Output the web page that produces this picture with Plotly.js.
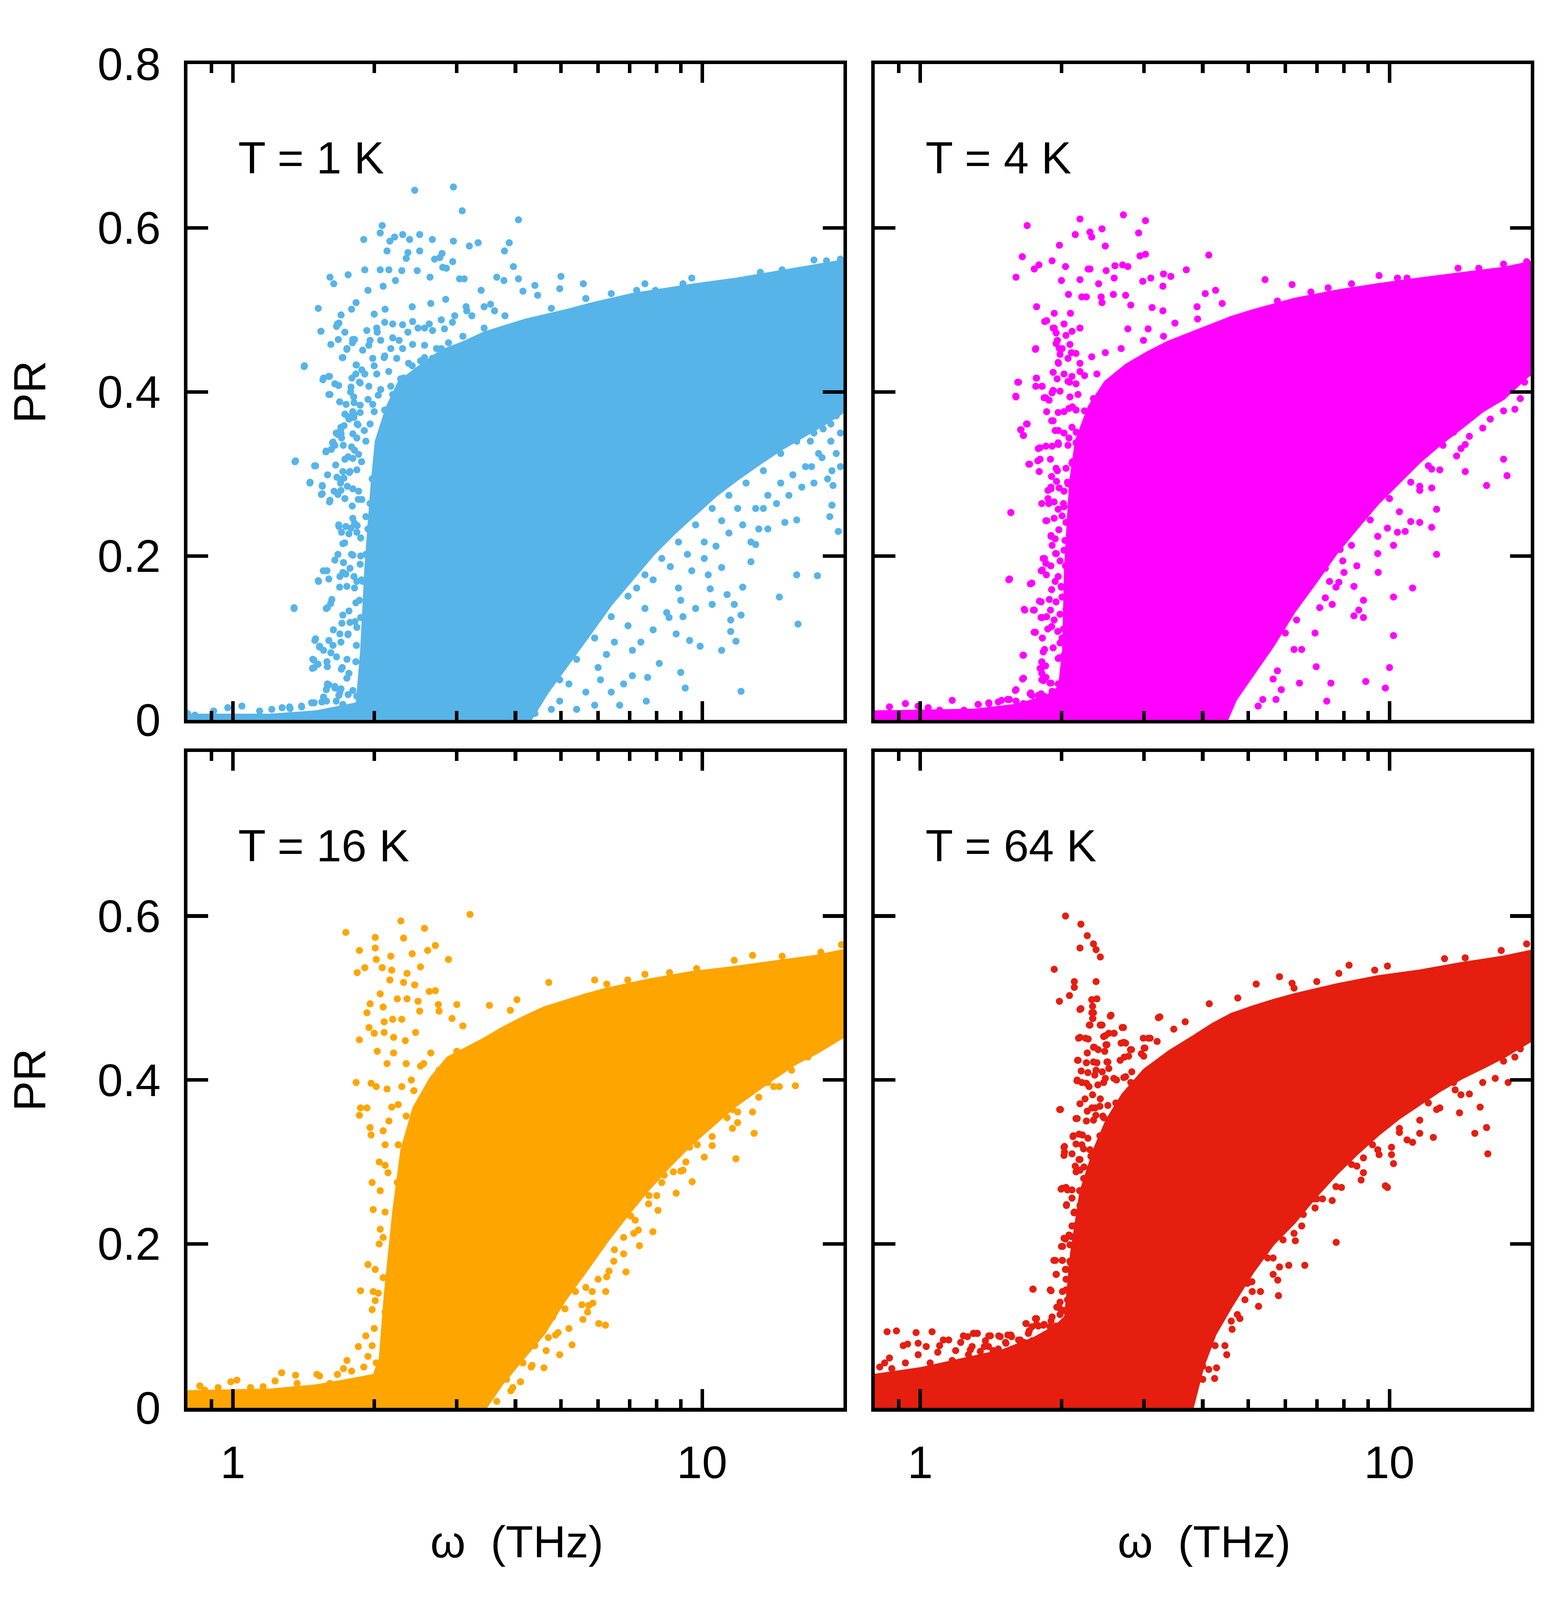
<!DOCTYPE html>
<html>
<head>
<meta charset="utf-8">
<script src="https://cdn.plot.ly/plotly-3.0.1.min.js"></script>
<style>html,body{margin:0;padding:0;background:#fff;overflow:hidden}</style>
</head>
<body>
<div id="chart"></div>
<script>
// ---------- axis ticks ----------
const xMajorTicks = [1, 10];
const xMajorText = ["1", "10"];
const xMinorTicks = [0.8, 0.9, 2, 3, 4, 5, 6, 7, 8, 9, 20];
const yTicksTop = [0, 0.2, 0.4, 0.6, 0.8];
const yTextTop = ["0", "0.2", "0.4", "0.6", "0.8"];
const yTicksBottom = [0, 0.2, 0.4, 0.6];
const yTextBottom = ["0", "0.2", "0.4", "0.6"];

const panelLabels = ["T = 1 K", "T = 4 K", "T = 16 K", "T = 64 K"];
const panelColors = ["#56b4e9", "#ff00ff", "#ffa500", "#e51e10"];
const xTitle = "ω\u00a0 (THz)";
const yTitle = "PR";

// ---------- T = 1 K : outline of the densely covered region [omega, PR] ----------
const t1Core = [[0.8,0],[0.8,0.006],[1.2,0.006],[1.5,0.01],[1.7,0.016],[1.84,0.02],[1.88,0.085],[1.92,0.187],[1.98,0.289],[2.02,0.34],[2.13,0.381],[2.26,0.412],[2.51,0.432],[2.78,0.45],[3.09,0.46],[3.43,0.472],[3.8,0.48],[4.22,0.488],[4.68,0.494],[5.19,0.5],[5.76,0.507],[6.39,0.513],[7.09,0.519],[7.86,0.523],[9.68,0.531],[11.9,0.538],[14.7,0.547],[18.1,0.555],[20,0.56],[20,0.376],[18.1,0.36],[16.3,0.345],[14.7,0.33],[13.2,0.312],[11.9,0.294],[10.7,0.274],[9.68,0.251],[8.72,0.228],[7.86,0.202],[7.09,0.171],[6.39,0.141],[5.76,0.105],[5.19,0.069],[4.68,0.034],[4.3,0]];
// T = 1 K : scattered points [omega, PR]
const t1Points = [[2.44,0.646],[2.95,0.65],[3.08,0.621],[4.06,0.61],[2.08,0.603],[1.9,0.586],[2.06,0.594],[2.16,0.584],[2.21,0.589],[2.3,0.592],[2.5,0.592],[2.38,0.586],[2.66,0.586],[2.95,0.584],[3.19,0.578],[3.33,0.582],[3.88,0.582],[3.79,0.572],[2.13,0.572],[2.5,0.572],[2.36,0.57],[2.34,0.563],[2.79,0.569],[2.76,0.564],[2.69,0.562],[2.94,0.559],[3.96,0.553],[3.65,0.54],[3.78,0.536],[4.06,0.538],[1.61,0.54],[1.76,0.543],[1.64,0.532],[1.91,0.549],[2.06,0.549],[2.15,0.549],[2.29,0.548],[2.47,0.548],[2.63,0.54],[2.8,0.552],[2.85,0.551],[3.04,0.538],[3.11,0.538],[4.4,0.53],[5.0,0.541],[5.58,0.532],[4.97,0.526],[4.46,0.518],[4.15,0.523],[1.52,0.502],[1.54,0.474],[1.67,0.483],[1.7,0.494],[1.79,0.501],[1.83,0.509],[2.0,0.495],[1.94,0.524],[2.09,0.529],[2.22,0.536],[2.11,0.501],[2.41,0.504],[2.64,0.508],[2.84,0.513],[3.38,0.524],[3.54,0.507],[3.14,0.504],[3.23,0.493],[3.61,0.499],[1.42,0.432],[1.56,0.417],[1.6,0.419],[1.61,0.397],[1.65,0.41],[1.68,0.408],[1.71,0.442],[1.75,0.453],[1.8,0.464],[1.89,0.451],[1.83,0.433],[1.96,0.463],[2.03,0.473],[1.36,0.316],[1.5,0.31],[1.46,0.29],[1.55,0.286],[1.55,0.276],[1.61,0.268],[1.58,0.328],[1.63,0.338],[1.66,0.35],[1.7,0.349],[1.35,0.137],[1.52,0.17],[1.59,0.137],[1.5,0.099],[1.48,0.074],[1.49,0.064],[1.53,0.09],[1.56,0.085],[1.71,0.294],[1.77,0.302],[1.76,0.321],[1.79,0.333],[1.68,0.238],[1.73,0.216],[1.74,0.178],[1.79,0.202],[1.84,0.237],[1.85,0.269],[1.59,0.042],[1.65,0.039],[1.69,0.034],[1.71,0.064],[1.75,0.074],[1.76,0.105],[1.82,0.12],[1.86,0.146],[1.88,0.171],[1.92,0.202],[1.94,0.233],[1.96,0.264],[1.98,0.294],[1.88,0.315],[1.92,0.34],[1.96,0.361],[2.0,0.376],[1.94,0.391],[2.04,0.396],[1.84,0.361],[1.8,0.376],[1.86,0.412],[1.91,0.422],[2.0,0.432],[2.1,0.442],[2.17,0.453],[2.26,0.463],[2.36,0.473],[2.48,0.478],[2.62,0.483],[2.78,0.488],[2.97,0.493],[3.15,0.499],[3.43,0.504],[3.8,0.493],[3.43,0.478],[3.09,0.468],[2.78,0.453],[2.56,0.442],[2.41,0.432],[2.31,0.417],[2.17,0.407],
[1.54,0.474],[1.682,0.484],[1.663,0.48],[1.732,0.473],[1.677,0.464],[1.617,0.458],[1.798,0.46],[1.816,0.464],[1.749,0.452],[1.715,0.442],[1.418,0.431],[1.555,0.415],[1.606,0.419],[1.649,0.41],[1.679,0.408],[1.601,0.397],[1.833,0.433],[1.882,0.427],[1.828,0.422],[1.793,0.417],[1.867,0.411],[1.785,0.406],[1.781,0.4],[1.809,0.394],[1.688,0.388],[1.742,0.385],[1.812,0.387],[1.867,0.384],[1.732,0.373],[1.76,0.37],[1.767,0.367],[1.811,0.373],[1.811,0.369],[1.867,0.375],[1.847,0.36],[1.905,0.353],[1.699,0.357],[1.725,0.359],[1.696,0.353],[1.674,0.348],[1.704,0.344],[1.801,0.349],[1.837,0.344],[1.634,0.339],[1.649,0.335],[1.718,0.335],[1.62,0.33],[1.578,0.327],[1.816,0.329],[1.853,0.324],[1.801,0.319],[1.732,0.318],[1.356,0.315],[1.493,0.31],[1.656,0.311],[1.591,0.299],[1.715,0.303],[1.776,0.303],[1.837,0.305],[1.666,0.296],[1.724,0.295],[1.696,0.289],[1.459,0.289],[1.551,0.285],[1.753,0.285],[1.543,0.275],[1.643,0.279],[1.674,0.275],[1.699,0.28],[1.801,0.282],[1.853,0.279],[1.732,0.27],[1.606,0.266],[1.796,0.261],[1.882,0.269],[1.92,0.248],[1.801,0.246],[1.816,0.24],[1.682,0.236],[1.74,0.236],[1.785,0.234],[1.704,0.229],[1.767,0.227],[1.837,0.229],[1.872,0.222],[1.715,0.215],[1.674,0.202],[1.649,0.195],[1.801,0.201],[1.872,0.2],[1.867,0.19],[1.72,0.192],[1.586,0.182],[1.558,0.182],[1.776,0.185],[1.715,0.18],[1.522,0.169],[1.601,0.172],[1.69,0.175],[1.811,0.175],[1.837,0.169],[1.891,0.169],[1.688,0.162],[1.749,0.163],[1.816,0.161],[1.35,0.136],[1.581,0.136],[1.625,0.147],[1.615,0.142],[1.828,0.143],[1.767,0.133],[1.715,0.128],[1.707,0.118],[1.776,0.119],[1.872,0.125],[1.637,0.11],[1.69,0.105],[1.758,0.104],[1.837,0.113],[1.495,0.097],[1.601,0.097],[1.529,0.089],[1.634,0.091],[1.699,0.095],[1.833,0.091],[1.488,0.073],[1.477,0.063],[1.518,0.068],[1.586,0.071],[1.589,0.065],[1.663,0.077],[1.702,0.062],[1.617,0.082],[1.828,0.071],[1.767,0.057],[1.749,0.051],[1.601,0.043],[1.581,0.037],[1.649,0.041],[1.699,0.038],[1.682,0.03],[1.801,0.036],[1.547,0.022],[1.583,0.023],[1.471,0.021],[1.273,0.015],[1.324,0.014],[1.401,0.016],[1.715,0.019],[1.837,0.029],
[1.929,0.475],[2.025,0.478],[2.106,0.485],[2.19,0.483],[2.299,0.482],[2.415,0.486],[2.561,0.478],[2.663,0.475],[2.824,0.477],[2.936,0.485],[1.948,0.457],[2.065,0.463],[2.19,0.466],[2.299,0.453],[2.415,0.458],[2.561,0.457],[2.716,0.453],[2.88,0.46],[1.986,0.441],[2.106,0.444],[2.234,0.441],[2.368,0.435],[2.511,0.438],[2.663,0.441],[2.025,0.422],[2.148,0.425],[2.277,0.416],[2.415,0.413],[2.561,0.416],[1.948,0.407],[2.065,0.403],[2.19,0.397],[2.322,0.394],[1.986,0.385],[2.106,0.378],
[12.1,0.035],[16.0,0.117],[14.6,0.15],[15.9,0.177],[17.6,0.176],[18.9,0.262],[19.5,0.23],[18.7,0.248],[19.0,0.286],[18.0,0.32],[18.9,0.304],[17.1,0.309],[15.9,0.244],[15.0,0.241],[13.2,0.233],[13.8,0.233],[13.0,0.214],[12.7,0.193],[12.2,0.162],[11.5,0.122],[11.5,0.108],[11.8,0.096],[12.1,0.128],[11.0,0.085],[11.7,0.141],[10.5,0.141],[11.3,0.153],[11.0,0.186],[10.4,0.16],[9.9,0.09],[9.4,0.097],[9.2,0.039],[9.0,0.058],[8.5,0.125],[8.8,0.105],[9.0,0.146],[8.1,0.069],[7.65,0.052],[7.6,0.023],[7.1,0.054],[6.67,0.018],[6.8,0.044],[6.4,0.034],[6.07,0.049],[5.9,0.018],[5.65,0.034],[5.4,0.013],[5.2,0.044],[4.97,0.023],[4.77,0.013],[4.58,0.044],[4.4,0.008],[7.4,0.095],[7.86,0.11],[8.4,0.131],[8.9,0.161],[9.5,0.182],[10.1,0.197],[10.7,0.212],[11.4,0.228],[12.2,0.238],[13.0,0.258],[13.8,0.274],[14.7,0.289],[15.6,0.299],[16.6,0.309],[17.7,0.325],[18.8,0.34],[19.7,0.35],[18.8,0.361],[17.3,0.35],[15.9,0.34],[14.7,0.325],[13.5,0.304],[12.4,0.289],[11.4,0.274],[10.5,0.258],[9.68,0.238],[8.9,0.217],[8.2,0.197],[7.55,0.177],[6.95,0.151],[6.4,0.126],[5.9,0.1],[5.4,0.074],[4.97,0.049],[7.25,0.161],[7.86,0.171],[8.55,0.187],[9.3,0.202],[10.1,0.217],[11.0,0.243],[11.9,0.258],[6.5,0.095],[6.95,0.115],[6.0,0.064],[6.25,0.08],[7.1,0.085],[7.55,0.136],[9.68,0.136],[10.3,0.177],[9.1,0.126],[12.7,0.217],[13.5,0.258],[14.4,0.264],[15.3,0.274],[16.3,0.284],[17.3,0.289],[18.5,0.294],[19.7,0.309],[19.9,0.381],[19.3,0.371],[18.1,0.355],[17.0,0.34],[19.3,0.325],
[0.8,0.008],[0.83,0.006],[0.91,0.011],[0.975,0.015],[1.045,0.017],[1.14,0.011],[1.21,0.013],[1.32,0.016],[1.4,0.017],[1.49,0.021],[1.56,0.028],[1.59,0.044],[1.66,0.023],[1.76,0.031],[1.84,0.018],
[7.55,0.532],[9.5,0.539],[13.3,0.546],[14.8,0.549],[18.4,0.56],[17.3,0.561],[19.7,0.562],[7.25,0.524],[7.95,0.524],[9.1,0.532],[6.4,0.52],[5.65,0.514],[4.77,0.502]];

// ---------- T = 4 K ----------
const t2Core = [[0.8,0],[0.8,0.01],[1.3,0.012],[1.6,0.018],[1.85,0.028],[1.98,0.04],[2.02,0.085],[2.04,0.187],[2.09,0.289],[2.15,0.34],[2.29,0.382],[2.48,0.412],[2.75,0.433],[3.05,0.448],[3.38,0.461],[3.75,0.471],[4.15,0.481],[4.6,0.491],[5.1,0.499],[5.65,0.506],[6.26,0.513],[7.69,0.523],[9.44,0.531],[11.6,0.538],[14.2,0.544],[17.5,0.551],[20,0.558],[20,0.423],[17.5,0.392],[15.8,0.377],[14.2,0.356],[12.8,0.336],[11.6,0.315],[10.5,0.29],[9.44,0.264],[8.52,0.234],[7.69,0.203],[6.94,0.167],[6.26,0.132],[5.65,0.091],[5.1,0.055],[4.7,0.025],[4.5,0]];
const t2Points = [[2.71,0.616],[3.02,0.609],[2.19,0.611],[1.69,0.603],[2.14,0.592],[2.3,0.595],[2.44,0.599],[2.48,0.578],[2.32,0.589],[2.92,0.594],[1.98,0.579],[1.65,0.565],[3.02,0.568],[2.94,0.566],[4.12,0.567],[3.69,0.549],[3.42,0.541],[3.3,0.544],[3.1,0.539],[2.7,0.555],[2.77,0.553],[2.6,0.554],[2.49,0.548],[2.3,0.55],[2.28,0.55],[2.04,0.553],[1.91,0.56],[1.75,0.55],[1.79,0.555],[1.6,0.54],[2.0,0.536],[2.19,0.537],[2.4,0.532],[2.59,0.539],[2.98,0.535],[3.29,0.529],[5.43,0.537],[4.26,0.524],[4.05,0.52],[2.07,0.519],[2.21,0.516],[2.26,0.516],[2.43,0.516],[2.58,0.519],[2.74,0.518],[1.77,0.504],[1.86,0.487],[1.93,0.496],[2.09,0.496],[2.44,0.509],[2.81,0.506],[3.12,0.503],[3.29,0.499],[3.89,0.504],[4.4,0.508],[3.9,0.489],[3.49,0.484],[3.06,0.477],[2.77,0.477],[1.93,0.478],[1.96,0.463],[1.76,0.452],[1.98,0.453],[2.1,0.448],[2.32,0.443],[2.48,0.448],[2.68,0.453],[2.99,0.463],[3.3,0.468],[1.97,0.435],[1.77,0.417],[1.62,0.412],[1.82,0.407],[1.6,0.394],[2.08,0.412],[2.24,0.42],[2.38,0.422],[1.92,0.402],[1.85,0.393],[1.64,0.354],[1.66,0.347],[1.69,0.361],[1.86,0.376],[1.92,0.365],[1.97,0.353],[1.97,0.336],[1.8,0.332],[1.71,0.312],[1.8,0.318],[1.96,0.304],[1.9,0.282],[1.88,0.264],[1.86,0.243],[1.56,0.253],[1.9,0.224],[1.95,0.203],[1.84,0.197],[1.82,0.183],[1.55,0.172],[1.73,0.167],[1.81,0.144],[1.75,0.134],[1.67,0.134],[1.82,0.125],[1.76,0.107],[1.66,0.079],[1.87,0.111],[1.84,0.086],[1.81,0.063],[1.83,0.048],[1.66,0.051],[1.6,0.037],[1.72,0.033],[1.9,0.045],[1.98,0.076],[2.02,0.111],[2.0,0.162],[2.04,0.188],[2.02,0.264],[2.06,0.29],[2.11,0.315],[2.15,0.351],[2.24,0.377],[2.34,0.392],[2.54,0.407],[2.11,0.382],[2.38,0.361],
[1.842,0.486],[1.92,0.478],[1.948,0.472],[1.763,0.453],[2.025,0.483],[2.045,0.469],[2.106,0.474],[2.19,0.478],[1.948,0.459],[2.006,0.453],[2.085,0.458],[2.148,0.447],[1.986,0.446],[1.968,0.436],[2.065,0.441],[2.19,0.435],[1.92,0.424],[2.025,0.422],[2.106,0.419],[2.19,0.425],[1.614,0.412],[1.767,0.417],[1.763,0.407],[1.816,0.407],[1.958,0.416],[2.065,0.413],[2.148,0.41],[1.598,0.395],[1.837,0.393],[1.882,0.39],[1.91,0.399],[1.986,0.401],[2.085,0.394],[2.169,0.397],[1.968,0.375],[2.025,0.376],[2.075,0.38],[2.148,0.378],[1.685,0.361],[1.637,0.354],[1.659,0.347],[1.906,0.365],[1.939,0.353],[2.025,0.35],[2.106,0.357],[2.075,0.344],[1.785,0.331],[1.853,0.334],[1.91,0.334],[1.968,0.338],[2.065,0.335],[2.148,0.338],[1.704,0.312],[1.781,0.316],[1.895,0.318],[1.793,0.303],[1.948,0.307],[1.905,0.297],[1.952,0.291],[2.045,0.307],[2.106,0.313],[1.9,0.284],[1.872,0.28],[1.978,0.283],[2.025,0.279],[2.065,0.288],[1.56,0.253],[1.816,0.264],[1.872,0.27],[1.929,0.266],[1.968,0.257],[2.025,0.26],[1.853,0.243],[1.929,0.246],[2.006,0.249],[2.045,0.241],[1.9,0.225],[1.974,0.232],[2.035,0.219],[1.939,0.221],[1.91,0.213],[1.828,0.197],[1.853,0.191],[1.811,0.182],[1.898,0.188],[1.857,0.177],[1.943,0.203],[1.986,0.194],[2.025,0.207],[1.968,0.175],[1.545,0.171],[1.717,0.166],[1.906,0.159],[1.939,0.169],[1.996,0.163],[1.795,0.145],[1.884,0.147],[1.948,0.144],[2.006,0.15],[1.666,0.135],[1.743,0.134],[1.809,0.125],[1.859,0.126],[1.895,0.134],[1.929,0.122],[1.986,0.129],[2.045,0.135],[1.749,0.107],[1.821,0.1],[1.906,0.114],[1.964,0.108],[2.006,0.1],[1.92,0.088],[1.986,0.094],[1.656,0.079],[1.829,0.083],[1.968,0.075],[2.025,0.079],[1.816,0.071],[1.85,0.066],[1.801,0.063],[1.816,0.057],[1.853,0.052],[1.653,0.05],[1.816,0.049],[1.891,0.045],[1.968,0.044],[1.595,0.036],[1.715,0.032],[1.785,0.03],[1.837,0.029],[1.91,0.035],[1.536,0.025],[1.601,0.023],[1.467,0.022],[1.401,0.02],[1.328,0.019],[1.659,0.02],[1.749,0.022],
[0.83,0.007],[0.86,0.016],[0.93,0.02],[0.99,0.017],[1.04,0.015],[1.1,0.012],[1.17,0.024],[1.24,0.012],[1.33,0.019],[1.4,0.021],[1.49,0.024],[1.55,0.025],[1.73,0.03],[1.81,0.032],[1.9,0.025],
[17.5,0.318],[17.8,0.298],[16.1,0.286],[14.5,0.303],[14.5,0.336],[13.9,0.322],[13.0,0.335],[12.3,0.306],[12.3,0.283],[12.6,0.257],[12.3,0.235],[12.6,0.202],[11.6,0.241],[11.6,0.285],[11.1,0.242],[10.8,0.23],[10.4,0.229],[9.9,0.234],[10.2,0.213],[9.44,0.203],[9.46,0.18],[10.2,0.15],[11.2,0.161],[10.2,0.103],[10.0,0.064],[9.8,0.039],[8.9,0.047],[8.8,0.146],[8.4,0.163],[8.0,0.18],[8.3,0.213],[7.95,0.194],[8.4,0.127],[8.8,0.125],[8.6,0.134],[7.8,0.168],[7.45,0.169],[7.3,0.149],[7.3,0.185],[7.55,0.141],[7.5,0.045],[7.35,0.023],[6.98,0.065],[6.94,0.106],[6.43,0.045],[6.5,0.086],[6.34,0.122],[5.88,0.037],[5.73,0.025],[5.37,0.025],[5.25,0.017],[5.77,0.06],[5.47,0.086],[5.1,0.06],[4.8,0.04],[4.65,0.027],[7.1,0.137],[7.69,0.162],[8.52,0.188],[9.44,0.224],[10.5,0.254],[11.6,0.28],[12.8,0.305],[14.2,0.331],[15.8,0.356],[17.5,0.377],[19.0,0.392],[19.4,0.412],[19.8,0.423],[18.5,0.379],[16.4,0.392],[16.4,0.367],[14.8,0.346],[13.7,0.351],[6.26,0.086],[6.0,0.106],[6.6,0.157],[9.1,0.244],[10.0,0.27],[11.1,0.29],[12.1,0.31],[7.85,0.208],[5.65,0.05],
[9.5,0.542],[10.4,0.539],[10.9,0.539],[14.0,0.551],[15.5,0.551],[17.5,0.556],[19.6,0.559],[8.3,0.532],[7.4,0.527],[6.2,0.531],[6.8,0.522],[5.77,0.511]];

// ---------- T = 16 K ----------
const t3Core = [[0.8,0],[0.8,0.02],[1.2,0.022],[1.5,0.027],[1.8,0.035],[2.0,0.04],[2.06,0.06],[2.11,0.137],[2.2,0.239],[2.29,0.315],[2.43,0.366],[2.64,0.402],[2.87,0.427],[3.38,0.448],[3.75,0.463],[4.15,0.476],[4.6,0.488],[5.1,0.496],[5.65,0.504],[6.26,0.511],[7.69,0.522],[9.44,0.531],[11.6,0.537],[14.2,0.544],[17.5,0.551],[20,0.558],[20,0.453],[17.5,0.433],[15.8,0.42],[14.2,0.402],[12.8,0.384],[11.6,0.366],[10.5,0.344],[9.44,0.321],[8.52,0.295],[7.69,0.267],[6.94,0.236],[6.26,0.203],[5.65,0.167],[5.1,0.132],[4.6,0.091],[4.15,0.06],[3.75,0.03],[3.45,0]];
const t3Points = [[3.2,0.602],[2.28,0.594],[1.74,0.58],[2.01,0.574],[2.31,0.573],[2.56,0.585],[2.7,0.564],[2.6,0.558],[1.86,0.558],[2.01,0.561],[2.17,0.551],[2.41,0.554],[2.88,0.547],[2.02,0.547],[2.08,0.537],[1.91,0.537],[1.84,0.531],[2.18,0.534],[2.35,0.53],[2.51,0.538],[2.31,0.519],[2.44,0.516],[2.16,0.522],[4.71,0.519],[2.06,0.505],[2.24,0.499],[2.35,0.499],[2.62,0.508],[2.7,0.509],[1.96,0.493],[2.09,0.489],[2.48,0.496],[2.74,0.492],[3.0,0.492],[3.09,0.466],[3.52,0.491],[4.03,0.498],[3.9,0.485],[1.93,0.482],[2.1,0.471],[2.19,0.474],[2.29,0.474],[2.5,0.484],[2.75,0.484],[2.93,0.475],[1.95,0.464],[2.0,0.457],[2.1,0.458],[2.2,0.452],[2.33,0.448],[2.45,0.458],[1.86,0.449],[2.03,0.435],[2.2,0.433],[2.64,0.433],[3.0,0.435],[2.13,0.42],[2.34,0.42],[2.51,0.417],[2.75,0.412],[1.83,0.397],[1.97,0.396],[2.02,0.392],[2.13,0.389],[2.29,0.392],[2.43,0.387],[2.58,0.377],[1.87,0.366],[1.93,0.366],[1.86,0.357],[2.18,0.367],[2.34,0.356],[1.96,0.342],[1.97,0.333],[2.09,0.338],[2.11,0.321],[2.25,0.321],[2.34,0.298],[2.11,0.296],[2.14,0.287],[2.24,0.275],[1.98,0.275],[2.06,0.265],[1.99,0.242],[2.11,0.239],[2.06,0.218],[2.09,0.208],[2.2,0.208],[1.94,0.175],[2.01,0.169],[2.09,0.159],[2.15,0.162],[1.87,0.143],[1.99,0.142],[2.01,0.131],[1.98,0.12],[2.11,0.117],[2.0,0.097],[1.98,0.076],[1.92,0.088],[1.85,0.075],[1.94,0.063],[2.02,0.055],[1.75,0.058],[1.79,0.045],[1.9,0.05],[2.05,0.3],[2.15,0.35],[2.25,0.37],[2.4,0.4],[2.55,0.42],[2.05,0.2],[2.04,0.14],
[0.85,0.027],[0.99,0.032],[1.02,0.034],[1.23,0.033],[1.27,0.043],[1.36,0.04],[1.51,0.041],[1.53,0.039],[1.37,0.03],[1.09,0.025],[1.67,0.041],[1.72,0.048],[0.87,0.022],[0.93,0.025],[1.16,0.026],[1.61,0.03],
[11.8,0.304],[12.9,0.335],[15.8,0.393],[14.6,0.392],[13.2,0.379],[13.8,0.397],[13.1,0.402],[11.9,0.361],[11.9,0.348],[11.3,0.354],[10.5,0.331],[10.3,0.344],[9.76,0.321],[10.1,0.306],[9.52,0.276],[9.4,0.318],[9.23,0.3],[9.0,0.289],[8.68,0.288],[8.8,0.262],[8.3,0.284],[8.2,0.275],[8.05,0.241],[7.85,0.215],[7.7,0.259],[7.69,0.249],[7.35,0.198],[7.31,0.217],[7.15,0.213],[7.04,0.234],[6.8,0.208],[6.8,0.188],[6.88,0.166],[6.48,0.179],[6.33,0.167],[6.26,0.16],[6.23,0.142],[6.0,0.157],[5.83,0.142],[5.85,0.128],[5.7,0.117],[5.73,0.125],[5.57,0.108],[6.22,0.101],[6.02,0.103],[5.54,0.126],[5.37,0.142],[5.28,0.077],[5.2,0.097],[4.97,0.065],[4.93,0.092],[4.87,0.089],[4.8,0.111],[4.65,0.07],[4.6,0.049],[4.34,0.052],[4.32,0.05],[4.1,0.032],[3.95,0.025],[3.91,0.021],[3.65,0.008],[5.1,0.121],[5.65,0.147],[6.5,0.193],[7.2,0.229],[8.0,0.259],[9.1,0.29],[10.5,0.32],[11.6,0.341],[12.8,0.361],[14.2,0.392],[15.5,0.412],[16.8,0.428],[18.2,0.443],[19.4,0.453],[14.5,0.415],[11.6,0.364],[4.7,0.086],[4.4,0.076],[4.15,0.055],[3.83,0.035],
[12.8,0.552],[11.7,0.546],[14.8,0.551],[17.9,0.556],[19.8,0.565],[9.73,0.536],[8.52,0.531],[7.55,0.529],[6.26,0.517],[5.9,0.522],[6.94,0.522]];

// ---------- T = 64 K ----------
const t4Core = [[0.8,0],[0.8,0.04],[1.0,0.048],[1.2,0.058],[1.5,0.07],[1.75,0.085],[1.95,0.1],[2.04,0.111],[2.1,0.188],[2.2,0.264],[2.35,0.315],[2.5,0.351],[2.7,0.382],[3.0,0.412],[3.4,0.435],[3.8,0.452],[4.2,0.468],[4.6,0.48],[5.1,0.489],[5.65,0.497],[6.26,0.504],[7.69,0.516],[9.44,0.526],[11.6,0.533],[14.2,0.542],[17.5,0.55],[20,0.557],[20,0.448],[17.5,0.428],[15.8,0.415],[14.2,0.402],[12.8,0.387],[11.6,0.371],[10.5,0.354],[9.44,0.333],[8.52,0.31],[7.69,0.285],[6.94,0.257],[6.26,0.226],[5.65,0.2],[5.1,0.165],[4.6,0.124],[4.25,0.09],[4.0,0.05],[3.8,0]];
const t4Points = [[2.04,0.6],[2.2,0.59],[2.27,0.576],[2.19,0.561],[2.34,0.566],[2.37,0.559],[2.42,0.55],[1.93,0.535],[1.98,0.496],[2.13,0.52],[2.13,0.513],[2.37,0.52],[2.08,0.503],[2.32,0.498],[2.38,0.499],[2.2,0.487],[2.33,0.49],[2.34,0.482],[2.33,0.475],[2.55,0.479],[2.44,0.467],[2.3,0.467],[3.24,0.477],[2.71,0.464],[2.59,0.457],[2.46,0.453],[2.19,0.452],[2.28,0.45],[2.68,0.445],[2.74,0.445],[2.5,0.443],[2.35,0.44],[2.82,0.437],[3.09,0.451],[3.0,0.439],[2.96,0.432],[2.78,0.429],[2.5,0.422],[2.38,0.421],[2.27,0.433],[2.17,0.424],[2.37,0.412],[2.48,0.402],[2.74,0.404],[2.62,0.4],[2.81,0.397],[2.21,0.397],[2.16,0.4],[2.29,0.392],[2.33,0.382],[2.42,0.377],[1.99,0.364],[2.27,0.362],[2.36,0.366],[2.34,0.351],[2.16,0.353],[2.45,0.356],[2.18,0.334],[2.12,0.332],[2.03,0.319],[2.03,0.312],[2.21,0.321],[2.3,0.315],[2.18,0.303],[2.14,0.295],[2.19,0.29],[2.23,0.28],[2.01,0.268],[2.06,0.266],[2.05,0.248],[2.2,0.249],[2.13,0.239],[2.15,0.223],[2.1,0.209],[2.04,0.206],[2.15,0.203],[2.0,0.197],[1.94,0.18],[2.01,0.18],[2.05,0.169],[2.09,0.177],[1.95,0.163],[2.09,0.157],[2.01,0.142],[2.1,0.138],[1.9,0.143],[1.74,0.145],[1.98,0.122],[2.06,0.132],[1.97,0.123],
[2.19,0.486],[2.322,0.482],[2.333,0.475],[2.541,0.478],[3.218,0.476],[2.293,0.467],[2.419,0.467],[2.694,0.464],[2.175,0.451],[2.251,0.451],[2.48,0.454],[2.586,0.457],[2.523,0.457],[2.988,0.451],[3.065,0.451],[3.198,0.447],[2.34,0.44],[2.395,0.437],[2.488,0.443],[2.473,0.435],[2.716,0.446],[2.806,0.437],[3.012,0.439],[2.164,0.424],[2.26,0.421],[2.34,0.422],[2.511,0.422],[2.668,0.424],[2.723,0.428],[2.994,0.429],[2.203,0.411],[2.277,0.409],[2.355,0.406],[2.443,0.41],[2.523,0.414],[2.586,0.402],[2.158,0.399],[2.26,0.396],[2.391,0.394],[2.461,0.397],[2.716,0.403],[2.824,0.41],[2.19,0.371],[2.245,0.377],[2.322,0.366],[2.415,0.368],[2.511,0.369],[2.611,0.372],[1.983,0.364],[2.148,0.353],[2.26,0.35],[2.368,0.357],[2.461,0.354],[2.561,0.35],[2.116,0.331],[2.216,0.333],[2.277,0.329],[2.415,0.332],[2.148,0.322],[2.229,0.316],[2.025,0.318],[2.025,0.308],[2.106,0.31],[2.19,0.303],[2.311,0.307],[2.148,0.288],[2.234,0.294],[2.322,0.285],[1.996,0.267],[2.045,0.269],[2.106,0.266],[2.186,0.265],[2.106,0.256],[2.049,0.247],[2.19,0.247],[2.277,0.25],[2.127,0.238],[2.212,0.238],[2.106,0.222],[2.19,0.219],[2.025,0.207],[2.075,0.211],[2.011,0.197],[2.085,0.199],[2.127,0.191],[1.927,0.18],[2.006,0.18],[2.085,0.179],[1.948,0.163],[2.039,0.169],[2.127,0.169],[2.045,0.157],[1.738,0.145],[1.893,0.144],[2.045,0.144],[2.106,0.15],[1.986,0.129],[2.065,0.132],[1.955,0.123],[2.025,0.119],[1.91,0.111],[1.986,0.114],[1.76,0.109],[1.682,0.103],[1.707,0.094],[1.785,0.1],[1.837,0.102],[1.891,0.099],[1.948,0.1],
[0.85,0.093],[0.89,0.094],[0.98,0.092],[1.06,0.093],[0.92,0.076],[0.94,0.078],[0.99,0.079],[1.03,0.075],[1.1,0.076],[1.12,0.083],[1.15,0.083],[1.22,0.08],[1.3,0.091],[1.32,0.091],[1.4,0.088],[1.47,0.088],[1.56,0.089],[1.68,0.103],[1.77,0.102],[1.73,0.099],[1.83,0.101],[1.9,0.106],[1.77,0.109],[0.84,0.055],[0.86,0.061],[0.87,0.048],[0.82,0.05],[0.99,0.065],[1.09,0.068],[1.19,0.07],[1.29,0.075],[1.37,0.075],[1.43,0.07],[1.52,0.08],[1.62,0.083],[1.7,0.091],[0.93,0.055],[1.05,0.055],[1.17,0.058],[0.91,0.04],[1.02,0.038],[1.26,0.05],[1.4,0.055],[1.55,0.06],[1.75,0.076],[1.86,0.086],[0.81,0.03],[0.84,0.032],
[1.298,0.091],[1.324,0.091],[1.236,0.088],[1.261,0.087],[1.411,0.088],[1.481,0.087],[1.537,0.089],[1.566,0.087],[1.377,0.082],[1.634,0.083],[1.398,0.075],[1.467,0.072],[1.523,0.079],[1.581,0.072],[1.666,0.08],[1.732,0.082],[1.801,0.083],[1.279,0.071],[1.343,0.069],[1.267,0.065],
[17.9,0.397],[18.5,0.428],[16.2,0.31],[16.1,0.342],[15.2,0.335],[15.6,0.367],[14.1,0.36],[14.8,0.383],[13.8,0.388],[13.0,0.399],[12.6,0.364],[12.4,0.33],[11.6,0.335],[11.2,0.324],[10.9,0.327],[10.5,0.341],[10.1,0.309],[10.1,0.318],[10.2,0.298],[9.9,0.269],[9.8,0.271],[9.5,0.309],[9.2,0.321],[8.8,0.305],[8.8,0.287],[8.7,0.278],[8.3,0.297],[8.1,0.307],[7.7,0.202],[7.9,0.269],[7.55,0.253],[7.2,0.255],[7.0,0.255],[6.9,0.255],[6.6,0.174],[6.55,0.236],[6.5,0.222],[6.3,0.204],[6.1,0.174],[5.93,0.205],[5.83,0.172],[5.8,0.137],[5.78,0.156],[5.65,0.163],[5.5,0.183],[5.31,0.142],[5.26,0.124],[5.09,0.154],[4.98,0.152],[4.92,0.132],[4.8,0.109],[4.74,0.114],[4.62,0.096],[4.46,0.076],[4.5,0.065],[4.28,0.049],[4.24,0.036],[4.12,0.047],[4.0,0.051],[3.92,0.035],[3.7,0.035],[3.65,0.021],[3.76,0.014],[3.63,0.004],[15.8,0.397],[14.2,0.382],[12.8,0.366],[11.6,0.351],[10.5,0.336],[9.44,0.315],[8.52,0.295],[7.69,0.27],[6.94,0.244],[6.26,0.213],[5.65,0.183],[5.1,0.142],[4.6,0.106],[4.25,0.076],[4.0,0.035],[17.5,0.423],[19.0,0.438],[16.8,0.402],[13.7,0.397],[12.1,0.372],
[8.2,0.54],[9.3,0.534],[9.9,0.539],[13.1,0.548],[14.5,0.549],[17.3,0.558],[19.6,0.566],[7.8,0.53],[7.0,0.52],[5.83,0.526],[6.2,0.518],[6.26,0.512],[5.2,0.517],[4.75,0.5],[4.13,0.493],[3.47,0.462],[3.67,0.471]];

const cores = [t1Core, t2Core, t3Core, t4Core];
const points = [t1Points, t2Points, t3Points, t4Points];

// ---------- sizing: fit the visible window, keep the reference proportions ----------
const W = window.innerWidth || 4000;
const H = window.innerHeight || 4500;
const sx = W / 4000, sy = H / 4500, s = Math.min(sx, sy);
document.getElementById("chart").style.width = W + "px";
document.getElementById("chart").style.height = H + "px";

const FONT = "Liberation Sans, Arial, sans-serif";
const traces = [];
for (let i = 0; i < 4; i++) {
  const xa = i === 0 ? "x" : "x" + (i + 1);
  const ya = i === 0 ? "y" : "y" + (i + 1);
  traces.push({
    type: "scatter", mode: "lines", xaxis: xa, yaxis: ya,
    x: cores[i].map(p => p[0]), y: cores[i].map(p => p[1]),
    fill: "toself", fillcolor: panelColors[i],
    line: {color: panelColors[i], width: 8 * s},
    hoverinfo: "skip", showlegend: false
  });
  traces.push({
    type: "scatter", mode: "markers", xaxis: xa, yaxis: ya,
    x: points[i].map(p => p[0]), y: points[i].map(p => p[1]),
    marker: {color: panelColors[i], size: 20 * s, line: {width: 0}},
    hoverinfo: "skip", showlegend: false
  });
}

function xAxis(domain, anchor) {
  return {
    type: "log", range: [Math.log10(0.8), Math.log10(20)], domain: domain, anchor: anchor,
    showline: true, linewidth: 10 * s, linecolor: "#000", mirror: "allticks",
    ticks: "inside", ticklen: 53 * sy, tickwidth: 10 * s, tickcolor: "#000",
    tickmode: "array", tickvals: xMajorTicks, ticktext: xMajorText,
    minor: {tickmode: "array", tickvals: xMinorTicks, ticks: "inside", ticklen: 25 * sy, tickwidth: 10 * s, tickcolor: "#000", showgrid: false},
    showticklabels: false,
    showgrid: false, zeroline: false, automargin: false, fixedrange: true
  };
}
function yAxis(domain, vals, text, showLabels, anchor) {
  return {
    range: [0, 0.8], domain: domain, anchor: anchor,
    showline: true, linewidth: 10 * s, linecolor: "#000", mirror: "allticks",
    ticks: "inside", ticklen: 53 * sx, tickwidth: 10 * s, tickcolor: "#000",
    tickmode: "array", tickvals: vals, ticktext: text,
    showticklabels: showLabels, ticklabelstandoff: 36 * sx,
    tickfont: {family: FONT, size: 128 * s, color: "#000"},
    showgrid: false, zeroline: false, automargin: false, fixedrange: true
  };
}

const xL = [0.12, 0.54], xR = [0.56, 0.98];
const yT = [0.55, 0.96], yB = [0.12, 0.53];

const annFont = {family: FONT, size: 127 * s, color: "#000"};
const tickFont = {family: FONT, size: 128 * s, color: "#000"};
const annotations = [
  {text: panelLabels[0], x: 0.152, y: 0.9016, xanchor: "left", yanchor: "middle"},
  {text: panelLabels[1], x: 0.592, y: 0.9016, xanchor: "left", yanchor: "middle"},
  {text: panelLabels[2], x: 0.152, y: 0.4716, xanchor: "left", yanchor: "middle"},
  {text: panelLabels[3], x: 0.592, y: 0.4716, xanchor: "left", yanchor: "middle"},
  {text: xTitle, x: 0.3308, y: 0.0364, xanchor: "center", yanchor: "middle"},
  {text: xTitle, x: 0.7708, y: 0.0364, xanchor: "center", yanchor: "middle"},
  {text: yTitle, x: 0.019, y: 0.755, xanchor: "center", yanchor: "middle", textangle: -90},
  {text: yTitle, x: 0.019, y: 0.325, xanchor: "center", yanchor: "middle", textangle: -90}
].map(a => Object.assign({xref: "paper", yref: "paper", showarrow: false, font: annFont}, a));

// x tick labels of the bottom panels, placed at the tick values of their axes
["x3", "x4"].forEach(ref => {
  xMajorTicks.forEach((v, k) => {
    annotations.push({xref: ref, yref: "paper", x: Math.log10(v), y: 0.086,
      text: xMajorText[k], showarrow: false, xanchor: "center", yanchor: "middle", font: tickFont});
  });
});

const layout = {
  width: W, height: H,
  margin: {l: 0, r: 0, t: 0, b: 0},
  paper_bgcolor: "#fff", plot_bgcolor: "#fff",
  showlegend: false,
  xaxis: xAxis(xL, "y"),
  yaxis: yAxis(yT, yTicksTop, yTextTop, true, "x"),
  xaxis2: xAxis(xR, "y2"),
  yaxis2: yAxis(yT, yTicksTop, yTextTop, false, "x2"),
  xaxis3: xAxis(xL, "y3"),
  yaxis3: yAxis(yB, yTicksBottom, yTextBottom, true, "x3"),
  xaxis4: xAxis(xR, "y4"),
  yaxis4: yAxis(yB, yTicksBottom, yTextBottom, false, "x4"),
  annotations: annotations
};

Plotly.newPlot("chart", traces, layout, {staticPlot: true, displayModeBar: false});
</script>
</body>
</html>
